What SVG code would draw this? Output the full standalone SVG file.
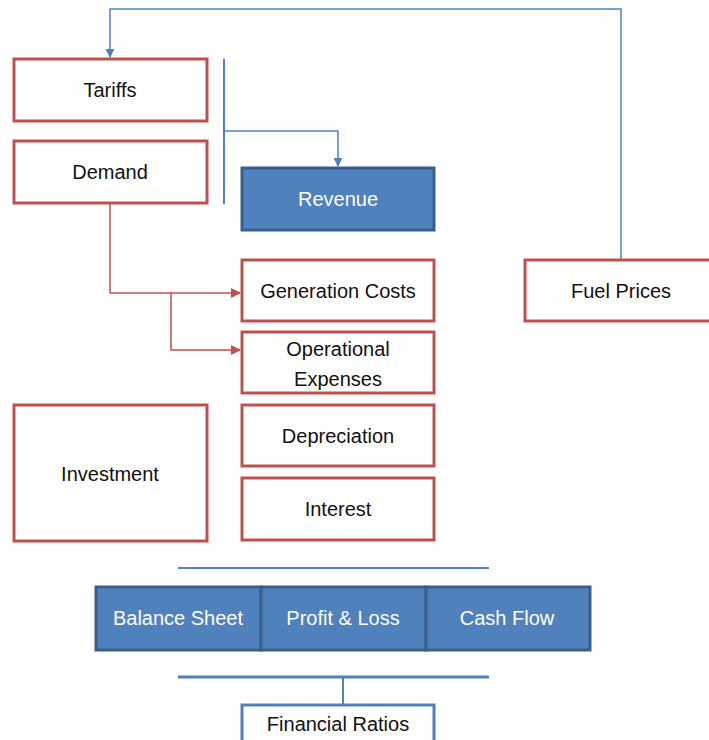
<svg xmlns="http://www.w3.org/2000/svg" width="709" height="740" viewBox="0 0 709 740">
<defs>
<style>
.r{fill:#fff;stroke:#C0504D;stroke-width:3}
.b{fill:#4F81BD;stroke:#3A5F8B;stroke-width:3}
.w{fill:#fff;stroke:#4F81BD;stroke-width:3}
text{font-family:"Liberation Sans",Arial,sans-serif;font-size:20px;text-anchor:middle;fill:#111}
.wt{fill:#fff}
.cb{fill:none;stroke:#4F81BD;stroke-width:1.5}
.cr{fill:none;stroke:#C0504D;stroke-width:1.5}
</style>
<marker id="ab" viewBox="0 0 10 10" refX="9" refY="5" markerWidth="9" markerHeight="9" markerUnits="userSpaceOnUse" orient="auto"><path d="M0,0L10,5L0,10z" fill="#4F81BD"/></marker>
<marker id="ar" viewBox="0 0 10 10" refX="9" refY="5" markerWidth="10" markerHeight="10" markerUnits="userSpaceOnUse" orient="auto"><path d="M0,0L10,5L0,10z" fill="#C0504D"/></marker>
</defs>
<g id="connectors">
<path class="cb" d="M621,260V9H110V57" marker-end="url(#ab)"/>
<line x1="224" y1="59" x2="224" y2="204" stroke="#4F81BD" stroke-width="2"/>
<path class="cb" d="M224,131H338V166" marker-end="url(#ab)"/>
<path class="cr" d="M110,203V293H240" marker-end="url(#ar)"/>
<path class="cr" d="M171,293V350H240" marker-end="url(#ar)"/>
<line x1="178" y1="568" x2="489" y2="568" stroke="#4F81BD" stroke-width="2"/>
<line x1="178" y1="677" x2="489" y2="677" stroke="#4F81BD" stroke-width="3"/>
<line x1="343" y1="677" x2="343" y2="705" stroke="#4F81BD" stroke-width="2"/>
</g>
<g id="tariffs"><rect class="r" x="14" y="59" width="193" height="62"/><text x="110" y="97">Tariffs</text></g>
<g id="demand"><rect class="r" x="14" y="141" width="193" height="62"/><text x="110" y="179">Demand</text></g>
<g id="revenue"><rect class="b" x="242" y="168" width="192" height="62"/><text class="wt" x="338" y="206">Revenue</text></g>
<g id="fuel-prices"><rect class="r" x="525" y="260" width="192" height="61"/><text x="621" y="298">Fuel Prices</text></g>
<g id="generation-costs"><rect class="r" x="242" y="260" width="192" height="61"/><text x="338" y="298">Generation Costs</text></g>
<g id="operational-expenses"><rect class="r" x="242" y="332" width="192" height="61"/><text x="338" y="356">Operational</text><text x="338" y="386">Expenses</text></g>
<g id="depreciation"><rect class="r" x="242" y="405" width="192" height="61"/><text x="338" y="443">Depreciation</text></g>
<g id="interest"><rect class="r" x="242" y="478" width="192" height="62"/><text x="338" y="516">Interest</text></g>
<g id="investment"><rect class="r" x="14" y="405" width="193" height="136"/><text x="110" y="481">Investment</text></g>
<g id="balance-sheet"><rect class="b" x="96" y="587" width="165" height="63"/><text class="wt" x="178" y="625">Balance Sheet</text></g>
<g id="profit-loss"><rect class="b" x="261" y="587" width="165" height="63"/><text class="wt" x="343" y="625">Profit &amp; Loss</text></g>
<g id="cash-flow"><rect class="b" x="426" y="587" width="164" height="63"/><text class="wt" x="507" y="625">Cash Flow</text></g>
<g id="financial-ratios"><rect class="w" x="242" y="705" width="192" height="50"/><text x="338" y="731">Financial Ratios</text></g>
</svg>
